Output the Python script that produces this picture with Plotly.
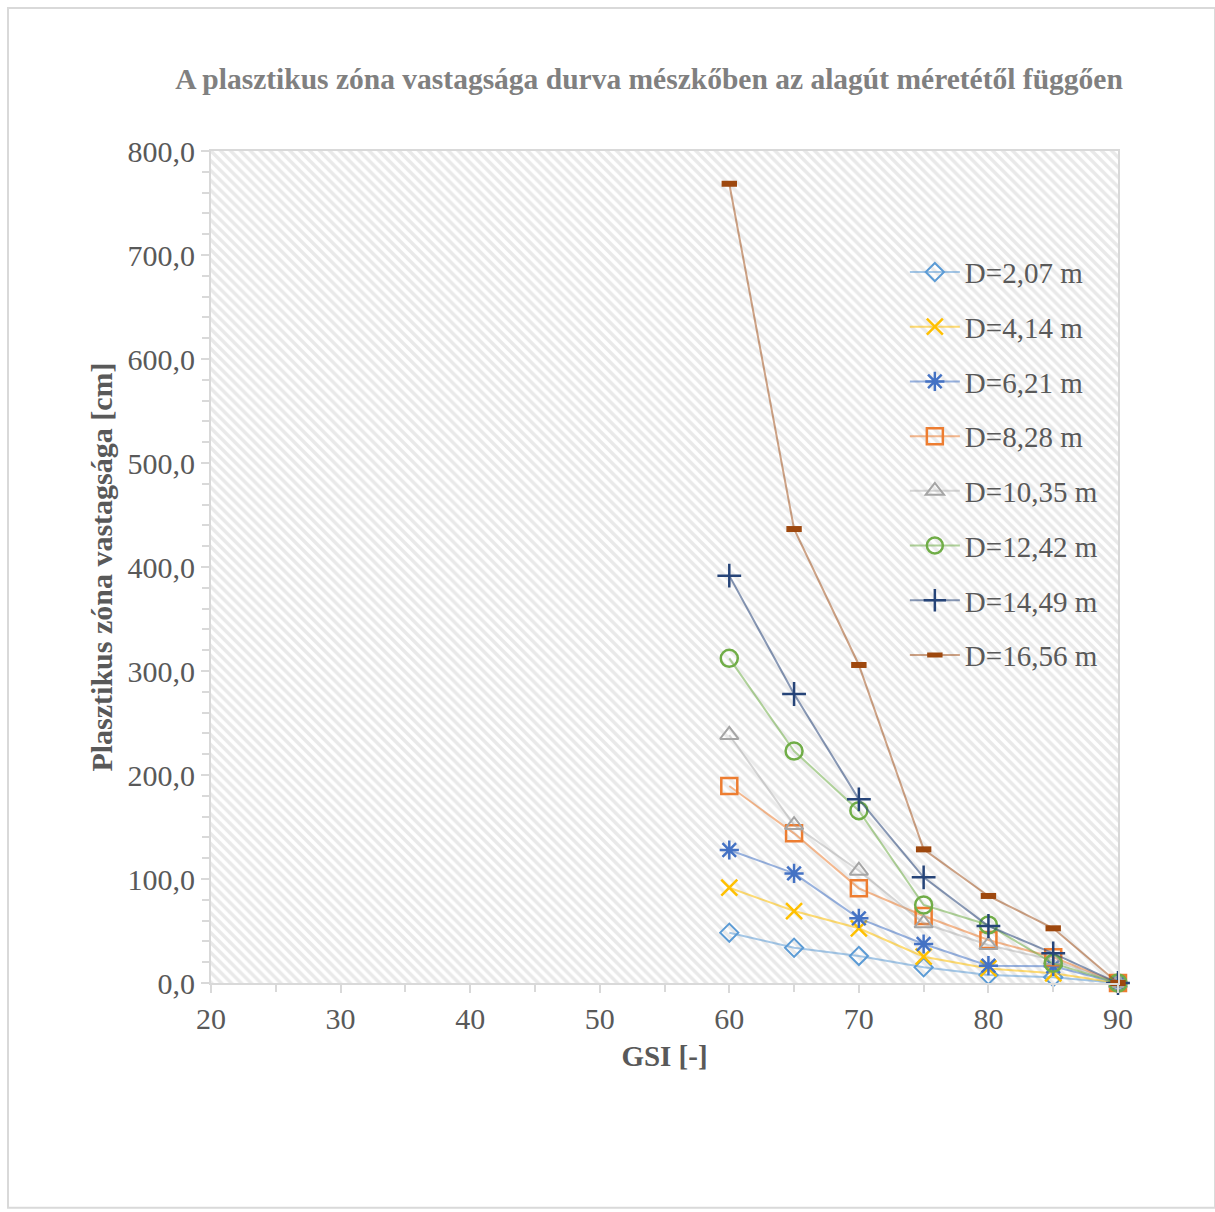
import plotly.graph_objects as go

gsi = [60, 65, 70, 75, 80, 85, 90]

series_names = ["D=2,07 m", "D=4,14 m", "D=6,21 m", "D=8,28 m",
                "D=10,35 m", "D=12,42 m", "D=14,49 m", "D=16,56 m"]

d_2_07 = [48.4, 33.9, 26.0, 15.1, 7.7, 5.5, 0.0]
d_4_14 = [91.6, 69.2, 52.6, 25.3, 14.0, 9.3, 0.0]
d_6_21 = [127.9, 105.4, 62.2, 37.5, 16.7, 16.0, 0.0]
d_8_28 = [189.4, 143.9, 91.0, 64.4, 41.3, 24.7, 0.0]
d_10_35 = [238.5, 151.9, 108.0, 57.4, 36.5, 22.0, 0.0]
d_12_42 = [312.2, 223.0, 165.7, 75.0, 55.8, 18.9, 0.0]
d_14_49 = [391.7, 277.9, 176.6, 101.6, 54.8, 28.5, 0.0]
d_16_56 = [768.5, 436.5, 305.8, 128.5, 83.7, 52.6, 0.0]

values = [d_2_07, d_4_14, d_6_21, d_8_28, d_10_35, d_12_42, d_14_49, d_16_56]

marker_colors = ["#5B9BD5", "#FFC000", "#4472C4", "#ED7D31",
                 "#A5A5A5", "#70AD47", "#264478", "#9E480E"]
line_colors = ["rgba(91,155,213,0.55)", "rgba(255,192,0,0.55)", "rgba(68,114,196,0.55)",
               "rgba(237,125,49,0.55)", "rgba(165,165,165,0.45)", "rgba(112,173,71,0.55)",
               "rgba(38,68,120,0.55)", "rgba(158,72,14,0.5)"]
symbols = ["diamond-open", "x-thin-open", "asterisk-open", "square-open",
           "triangle-up-open", "circle-open", "cross-thin-open", "line-ew-open"]
sizes = [14, 16, 16, 16, 16, 17, 17, 11]
mlw = [2, 2.5, 2.5, 2.5, 2, 2.5, 2.5, 6]

FONT = "Liberation Serif"
GRID = "#d9d9d9"
TXT = "#595959"

fig = go.Figure()

# hatched plot-area background
fig.add_trace(go.Scatter(
    x=[20, 90, 90, 20, 20], y=[0, 0, 800, 800, 0],
    mode="none", fill="toself", showlegend=False, hoverinfo="skip",
    fillcolor="rgba(0,0,0,0)",
    fillpattern=dict(shape="\\", fgcolor="#d4d4d4", bgcolor="white", size=7, solidity=0.5),
))

for i, (name, vals) in enumerate(zip(series_names, values)):
    fig.add_trace(go.Scatter(
        x=gsi, y=vals, name=name, mode="lines+markers",
        line=dict(color=line_colors[i], width=2),
        marker=dict(symbol=symbols[i], size=sizes[i], color=marker_colors[i],
                    line=dict(color=marker_colors[i], width=mlw[i])),
        cliponaxis=False, legendgroup=name,
    ))

fig.update_layout(
    width=1215, height=1212,
    margin=dict(l=211, r=97, t=151, b=229),
    paper_bgcolor="white", plot_bgcolor="white",
    separators=", ",
    font=dict(family=FONT, color=TXT, size=30),
    title=dict(text="<b>A plasztikus zóna vastagsága durva mészkőben az alagút méretétől függően</b>",
               x=0.483, xref="paper", xanchor="center", y=0.935, yanchor="middle",
               font=dict(family=FONT, size=29.5, color="#808080")),
    showlegend=True,
    legend=dict(x=0.765, y=0.885, xanchor="left", yanchor="top",
                bgcolor="rgba(0,0,0,0)", font=dict(family=FONT, size=29, color=TXT),
                tracegroupgap=14, itemwidth=50),
    shapes=[dict(type="rect", xref="paper", yref="paper",
                 x0=-0.2238, x1=1.107, y0=-0.27, y1=1.1719,
                 line=dict(color=GRID, width=2), fillcolor="rgba(0,0,0,0)", layer="below")],
)

fig.update_xaxes(
    range=[20, 90], dtick=10, tick0=20,
    showgrid=True, gridcolor=GRID, gridwidth=2,
    showline=True, linecolor=GRID, linewidth=2, mirror=True,
    ticks="outside", ticklen=8, tickcolor=GRID, tickwidth=1.5,
    minor=dict(dtick=5, ticks="outside", ticklen=7, tickcolor=GRID, showgrid=False),
    zeroline=False,
    tickfont=dict(family=FONT, size=30, color=TXT),
    title=dict(text="<b>GSI [-]</b>", font=dict(family=FONT, size=29, color=TXT), standoff=12),
)
fig.update_yaxes(
    range=[0, 800], dtick=100, tick0=0, tickformat=".1f",
    showgrid=True, gridcolor=GRID, gridwidth=2,
    showline=True, linecolor=GRID, linewidth=2, mirror=True,
    ticks="outside", ticklen=8, tickcolor=GRID, tickwidth=1.5,
    minor=dict(dtick=20, ticks="outside", ticklen=7, tickcolor=GRID, showgrid=False),
    zeroline=False,
    tickfont=dict(family=FONT, size=30, color=TXT),
    title=dict(text="<b>Plasztikus zóna vastagsága [cm]</b>", font=dict(family=FONT, size=30, color=TXT), standoff=6),
)

fig.write_html("out.html")
